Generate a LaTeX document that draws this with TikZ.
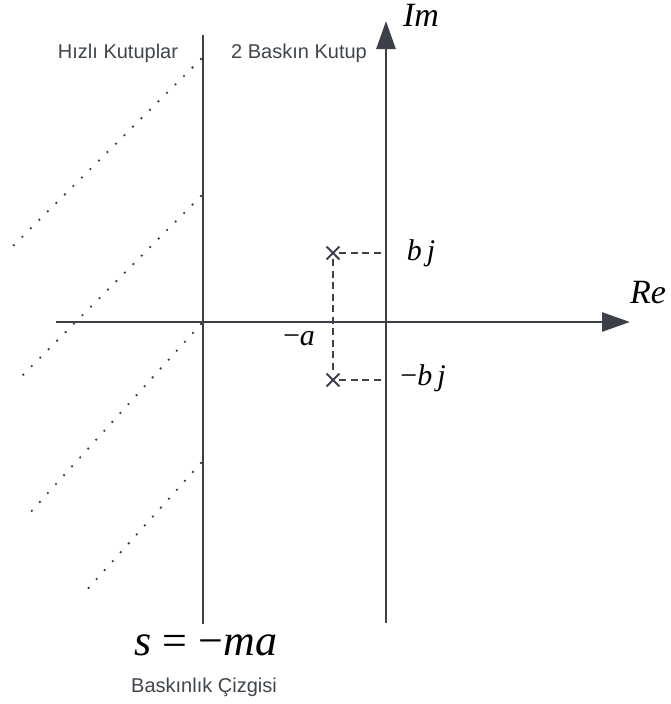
\documentclass[tikz,border=0pt]{standalone}
\usepackage{fontspec}
\newfontfamily\labelfont{Liberation Sans}
\newfontfamily\symfont{Liberation Serif}
\usetikzlibrary{arrows.meta, shapes.misc}
\definecolor{axisgray}{HTML}{3B4049}
\definecolor{textgray}{HTML}{3F454D}

\begin{document}
\begin{tikzpicture}[x=1pt, y=-1pt,
    axis/.style ={draw=axisgray, line width=2.6pt,
                  -{Triangle[length=28pt, width=19pt]}},
    dline/.style={draw=axisgray, line width=2.6pt},
    guide/.style={draw=axisgray, line width=1.8pt, dash pattern=on 7pt off 4.5pt},
    fast/.style ={draw=axisgray, line width=2.6pt, line cap=round,
                  dash pattern=on 0pt off 12pt},
    pole/.style ={cross out, draw=axisgray, line width=1.8pt,
                  minimum size=11pt, inner sep=0pt},
    mlabel/.style={font=\symfont\itshape\fontsize{30}{36}\selectfont, inner sep=0pt},
    slabel/.style={font=\labelfont\fontsize{20}{24}\selectfont,
                   text=textgray, inner sep=0pt}
  ]
  \useasboundingbox (0,0) rectangle (670,704);

  % Axes
  \coordinate (o)    at (386,322);
  \coordinate (reL)  at (56,322);
  \coordinate (reR)  at (630,322);
  \coordinate (imB)  at (386,623);
  \coordinate (imT)  at (386,21);
  \draw[axis] (reL) -- (reR);
  \draw[axis] (imB) -- (imT);
  \node[mlabel, font=\symfont\itshape\fontsize{34}{40}\selectfont] (im) at (421,15) {Im};
  \node[mlabel, font=\symfont\itshape\fontsize{34}{40}\selectfont] (re) at (648,293) {Re};

  % Dominance line
  \coordinate (dT) at (203,35);
  \coordinate (dB) at (203,624);
  \draw[dline] (dB) -- (dT);

  % Dominant poles
  \node[pole] (p1) at (333,253) {};
  \node[pole] (p2) at (333,380) {};
  \draw[guide] (p1) -- (p2);
  \draw[guide] (p1) -- (p1 -| o);
  \draw[guide] (p2) -- (p2 -| o);
  \node[mlabel] (bj)  at (421,253) {b\,j};
  \node[mlabel] (mbj) at (423,378) {{\upshape −}b\,j};
  \node[mlabel] (ma)  at (299,339) {{\upshape −}a};

  % Fast poles region
  \draw[fast] (201,59)  -- (13,246);
  \draw[fast] (201,196) -- (18,380);
  \draw[fast] (201,324) -- (28,515);
  \draw[fast] (201,463) -- (84,593);

  % Labels
  \node[mlabel, font=\symfont\itshape\fontsize{44}{50}\selectfont] (line) at (206,645)
    {s\hspace{0.25em}{\upshape =}\hspace{0.25em}{\upshape −}ma};
  \node[slabel] (linetxt) at (204,687) {Baskınlık Çizgisi};
  \node[slabel] (fasttxt) at (118,53) {Hızlı Kutuplar};
  \node[slabel] (domtxt)  at (299,53) {2 Baskın Kutup};
\end{tikzpicture}
\end{document}
